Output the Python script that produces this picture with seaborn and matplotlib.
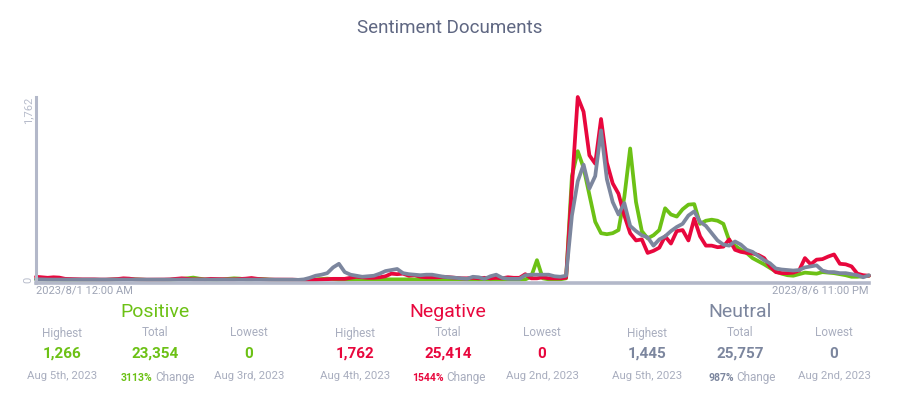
import pandas as pd
import seaborn as sb
import matplotlib.pyplot as plt

sb.set_style("white")
plt.rcParams['font.family'] = ['Roboto', 'DejaVu Sans']

hours = pd.date_range("2023-08-01 00:00", periods=144, freq="h")

positive = [5, 5, 3, 2, 2, 0, 0, 0, 0, 0,
            0, 0, 0, 2, 5, 8, 10, 5, 2, 0,
            0, 0, 0, 0, 5, 10, 15, 22, 12, 5,
            3, 2, 5, 10, 15, 12, 5, 5, 10, 8,
            3, 0, 0, 0, 0, 0, 0, 2, 5, 8,
            12, 8, 2, 3, 5, 5, 5, 5, 5, 5,
            5, 5, 5, 5, 5, 5, 5, 5, 5, 5,
            5, 5, 5, 5, 3, 3, 3, 3, 3, 3,
            3, 3, 3, 3, 5, 30, 190, 15, 5, 5,
            5, 15, 1000, 1240, 1080, 820, 560, 450, 440, 450,
            480, 800, 1266, 750, 470, 400, 430, 480, 690, 630,
            610, 680, 725, 730, 540, 570, 580, 570, 540, 380,
            330, 290, 260, 210, 180, 150, 115, 80, 60, 45,
            40, 55, 70, 65, 60, 75, 70, 65, 55, 45,
            30, 30, 35, 40]

negative = [30, 25, 20, 25, 22, 10, 8, 5, 5, 5,
            5, 3, 3, 5, 8, 15, 12, 5, 3, 2,
            2, 2, 3, 5, 10, 15, 10, 5, 5, 5,
            10, 8, 5, 5, 5, 8, 12, 18, 10, 5,
            3, 3, 2, 2, 2, 0, 0, 0, 0, 3,
            5, 10, 10, 10, 20, 30, 25, 20, 20, 25,
            35, 60, 55, 60, 40, 45, 30, 25, 25, 25,
            30, 25, 20, 15, 15, 20, 15, 20, 15, 20,
            15, 25, 20, 20, 55, 15, 15, 25, 15, 15,
            15, 20, 900, 1762, 1620, 1200, 1120, 1550, 1130, 930,
            830, 620, 450, 380, 390, 260, 280, 310, 420, 350,
            470, 480, 380, 590, 420, 330, 330, 315, 320, 390,
            290, 270, 260, 255, 240, 210, 130, 75, 65, 65,
            70, 90, 210, 150, 195, 200, 225, 245, 155, 150,
            130, 60, 45, 40]

neutral = [5, 5, 3, 3, 2, 2, 2, 2, 2, 2,
           2, 2, 2, 2, 3, 3, 2, 2, 2, 2,
           2, 2, 2, 2, 3, 3, 3, 2, 2, 2,
           2, 2, 2, 2, 3, 3, 2, 2, 2, 2,
           2, 2, 2, 2, 2, 0, 5, 20, 40, 50,
           65, 120, 155, 75, 50, 40, 30, 35, 40, 60,
           85, 95, 105, 65, 55, 50, 45, 50, 50, 40,
           30, 25, 20, 15, 10, 30, 25, 10, 35, 50,
           20, 10, 10, 10, 45, 50, 50, 50, 50, 35,
           30, 40, 620, 950, 1110, 880, 1000, 1440, 970, 750,
           630, 740, 520, 470, 430, 410, 330, 390, 420, 470,
           510, 540, 620, 660, 560, 520, 450, 380, 340, 330,
           370, 340, 290, 270, 230, 190, 160, 110, 100, 95,
           90, 95, 120, 130, 140, 90, 75, 75, 65, 65,
           55, 45, 25, 45]

series = ["Positive", "Negative", "Neutral"]
colors = {"Positive": "#6cc115", "Negative": "#e8073d", "Neutral": "#7c869e"}

stat_labels = ["Highest", "Total", "Lowest"]
stat_values = {"Positive": ["1,266", "23,354", "0"],
               "Negative": ["1,762", "25,414", "0"],
               "Neutral": ["1,445", "25,757", "0"]}
stat_dates = {"Positive": ["Aug 5th, 2023", "Aug 3rd, 2023"],
              "Negative": ["Aug 4th, 2023", "Aug 2nd, 2023"],
              "Neutral": ["Aug 5th, 2023", "Aug 2nd, 2023"]}
changes = {"Positive": "3113%", "Negative": "1544%", "Neutral": "987%"}

df = pd.DataFrame({"time": list(hours) * 3,
                   "docs": positive + negative + neutral,
                   "sentiment": ["Positive"] * 144 + ["Negative"] * 144 + ["Neutral"] * 144})

W, H = 900, 399
fig = plt.figure(figsize=(9, 3.99), dpi=100)
ax = fig.add_axes([36 / W, 1 - 283 / H, (869 - 36) / W, (283 - 97) / H])

sb.lineplot(data=df, x="time", y="docs", hue="sentiment", hue_order=series,
            palette=colors, linewidth=2.7, legend=False, ax=ax,
            solid_joinstyle="round", solid_capstyle="round", clip_on=False)

ax.set_xlim(hours[0], hours[-1])
ax.set_ylim(-30, 1762)
ax.set_xlabel("")
ax.set_ylabel("")
for s in ["top", "right"]:
    ax.spines[s].set_visible(False)
for s in ["left", "bottom"]:
    ax.spines[s].set_color("#b3b8c9")
ax.spines["left"].set_linewidth(2.2)
ax.spines["bottom"].set_linewidth(2.6)

ax.set_xticks([hours[0], hours[-1]])
ax.set_xticklabels(["2023/8/1 12:00 AM", "2023/8/6 11:00 PM"])
xl = ax.get_xticklabels()
xl[0].set_ha("left")
xl[1].set_ha("right")
ax.tick_params(axis="x", length=0, pad=2, labelsize=8, labelcolor="#9ea4b5")

ax.set_yticks([0, 1762])
ax.set_yticklabels(["0", "1,762"], rotation=90)
yl = ax.get_yticklabels()
yl[0].set_va("center")
yl[1].set_va("top")
ax.tick_params(axis="y", length=0, pad=2, labelsize=8, labelcolor="#b7bccb")

fig.text(0.5, 1 - 28 / H, "Sentiment Documents", ha="center", va="center",
         fontsize=13.5, color="#5f6782")

group_x = {"Positive": 155, "Negative": 448, "Neutral": 740}
split_x = {"Positive": 153.5, "Negative": 445, "Neutral": 735}
col_off = [-93, 0, 94]
label_col = "#a9aebf"

for name in series:
    cx = group_x[name]
    c = colors[name]
    fig.text(cx / W, 1 - 312 / H, name, ha="center", va="center",
             fontsize=14, color=c)
    for i, lab in enumerate(stat_labels):
        x = (cx + col_off[i]) / W
        fig.text(x, 1 - 333 / H, lab, ha="center", va="center",
                 fontsize=8.5, color=label_col)
        fig.text(x, 1 - 354 / H, stat_values[name][i], ha="center", va="center",
                 fontsize=11, color=c, fontweight="bold")
    fig.text((cx + col_off[0]) / W, 1 - 376 / H, stat_dates[name][0], ha="center",
             va="center", fontsize=8.2, color=label_col)
    fig.text((cx + col_off[2]) / W, 1 - 376 / H, stat_dates[name][1], ha="center",
             va="center", fontsize=8.2, color=label_col)
    sx = split_x[name]
    fig.text((sx - 1) / W, 1 - 378 / H, changes[name], ha="right", va="center",
             fontsize=7.5, color=c, fontweight="bold")
    fig.text((sx + 1.5) / W, 1 - 378 / H, "Change", ha="left", va="center",
             fontsize=8.5, color=label_col)

plt.savefig("out.png", dpi=100)
plt.close()
